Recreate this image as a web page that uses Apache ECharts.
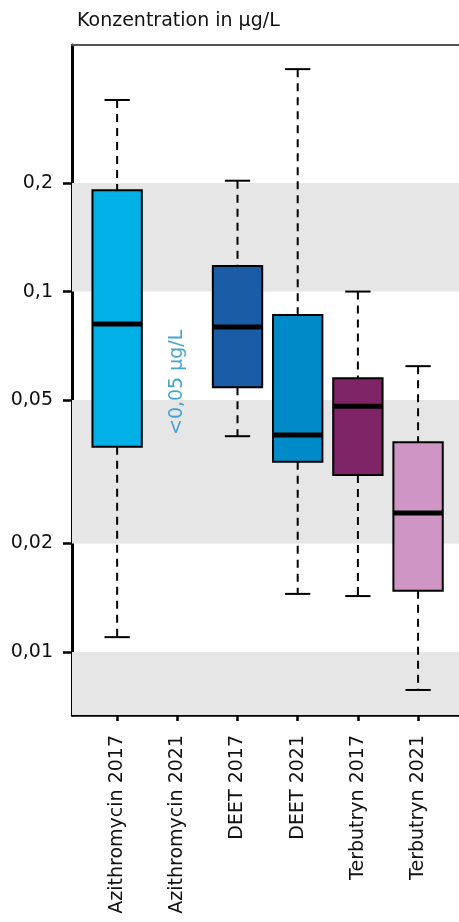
<!DOCTYPE html>
<html>
<head>
<meta charset="utf-8">
<script src="https://cdn.jsdelivr.net/npm/echarts@6/dist/echarts.min.js"></script>
<style>
  html, body { margin: 0; padding: 0; background: #fff; }
  #chart { width: 459px; height: 922px; }
</style>
</head>
<body>
<div id="chart"></div>
<script>
// Categories along the x axis
const categories = ['Azithromycin 2017', 'Azithromycin 2021', 'DEET 2017', 'DEET 2021', 'Terbutryn 2017', 'Terbutryn 2021'];

// Box statistics per category: [category index, whisker low, Q1, median, Q3, whisker high]
const boxStats = [
  [0, 0.0110, 0.0371, 0.0813, 0.191, 0.340],
  [2, 0.0397, 0.0543, 0.0797, 0.1177, 0.203],
  [3, 0.0145, 0.0337, 0.0400, 0.0861, 0.414],
  [4, 0.0143, 0.0310, 0.0481, 0.0575, 0.100],
  [5, 0.00785, 0.0148, 0.0243, 0.0382, 0.0621]
];

// Azithromycin 2021 has no box: only the note below the detection limit
const noteText = ['<0,05 µg/L'];
const notePos = [[1, 0.056]];

// Y axis tick values (log scale) and shaded value bands
const yTicks = [0.01, 0.02, 0.05, 0.1, 0.2];
const yRange = [0.00669, 0.483];
const shadedBands = [[0.1, 0.2], [0.02, 0.05], [0.00669, 0.01]];

// Fill colours per box, in the order of boxStats
const boxColors = ['#00b0e6', '#1a5ca6', '#008bc8', '#7e2467', '#cf95c4'];

const FONT = '"DejaVu Sans", sans-serif';
const TEXT = '#111';
const chart = echarts.init(document.getElementById('chart'));

function fmtTick(v) {
  return String(Number(v.toPrecision(3))).replace('.', ',');
}

function renderBox(params, api) {
  const x = api.value(0);
  const low = api.coord([x, api.value(1)]);
  const q1 = api.coord([x, api.value(2)]);
  const med = api.coord([x, api.value(3)]);
  const q3 = api.coord([x, api.value(4)]);
  const high = api.coord([x, api.value(5)]);
  const bw = api.size([0.82, 0])[0];
  const cw = api.size([0.42, 0])[0];
  const cx = low[0];
  const dash = { stroke: '#000', lineWidth: 2, lineDash: [8, 6] };
  const solid = { stroke: '#000', lineWidth: 2 };
  return {
    type: 'group',
    children: [
      { type: 'line', shape: { x1: cx, y1: high[1], x2: cx, y2: q3[1] }, style: dash },
      { type: 'line', shape: { x1: cx, y1: q1[1], x2: cx, y2: low[1] }, style: dash },
      { type: 'line', shape: { x1: cx - cw / 2, y1: high[1], x2: cx + cw / 2, y2: high[1] }, style: solid },
      { type: 'line', shape: { x1: cx - cw / 2, y1: low[1], x2: cx + cw / 2, y2: low[1] }, style: solid },
      { type: 'rect', shape: { x: cx - bw / 2, y: q3[1], width: bw, height: q1[1] - q3[1] },
        style: { fill: boxColors[params.dataIndex], stroke: '#000', lineWidth: 2 } },
      { type: 'line', shape: { x1: cx - bw / 2, y1: med[1], x2: cx + bw / 2, y2: med[1] },
        style: { stroke: '#000', lineWidth: 5 } }
    ]
  };
}

const catIdx = categories.map((c, i) => i);

chart.setOption({
  animation: false,
  backgroundColor: '#fff',
  title: {
    text: 'Konzentration in µg/L',
    left: 72, top: 7,
    textStyle: { fontFamily: FONT, fontSize: 19, fontWeight: 'normal', color: TEXT }
  },
  grid: { left: 72, right: 0, top: 45, bottom: 207 },
  xAxis: [{
    type: 'value',
    min: -0.75, max: 5.68,
    position: 'bottom',
    splitLine: { show: false },
    axisLine: { show: true, onZero: false, lineStyle: { color: '#000', width: 2.5 } },
    axisTick: { show: true, customValues: catIdx, length: 6, lineStyle: { color: '#000', width: 2.5 } },
    axisLabel: {
      customValues: catIdx,
      rotate: 90, margin: 20,
      fontFamily: FONT, fontSize: 19, color: TEXT,
      formatter: v => categories[Math.round(v)]
    }
  }, {
    type: 'value',
    min: -0.75, max: 5.68,
    position: 'top',
    splitLine: { show: false },
    axisLine: { show: true, onZero: false, lineStyle: { color: '#555', width: 2 } },
    axisTick: { show: false },
    axisLabel: { show: false }
  }],
  yAxis: {
    type: 'log',
    min: yRange[0], max: yRange[1],
    splitLine: { show: false },
    axisLine: { show: true, onZero: false, lineStyle: { color: '#000', width: 3 } },
    axisTick: { show: true, customValues: yTicks, length: 9, lineStyle: { color: '#000', width: 2.5 } },
    axisLabel: {
      customValues: yTicks, margin: 19,
      fontFamily: FONT, fontSize: 19, color: TEXT,
      formatter: v => fmtTick(v)
    }
  },
  series: [{
    type: 'custom',
    renderItem: renderBox,
    data: boxStats,
    encode: { x: 0, y: [1, 2, 3, 4, 5] },
    z: 3,
    markArea: {
      silent: true,
      itemStyle: { color: '#e6e6e6' },
      data: shadedBands.map(b => [{ yAxis: b[0] }, { yAxis: b[1] }])
    }
  }, {
    type: 'scatter',
    data: notePos,
    symbolSize: 0,
    z: 4,
    label: {
      show: true,
      position: 'inside',
      rotate: 90,
      formatter: p => noteText[p.dataIndex],
      fontFamily: FONT, fontSize: 19, color: '#1a8fc4'
    }
  }]
});
</script>
</body>
</html>
